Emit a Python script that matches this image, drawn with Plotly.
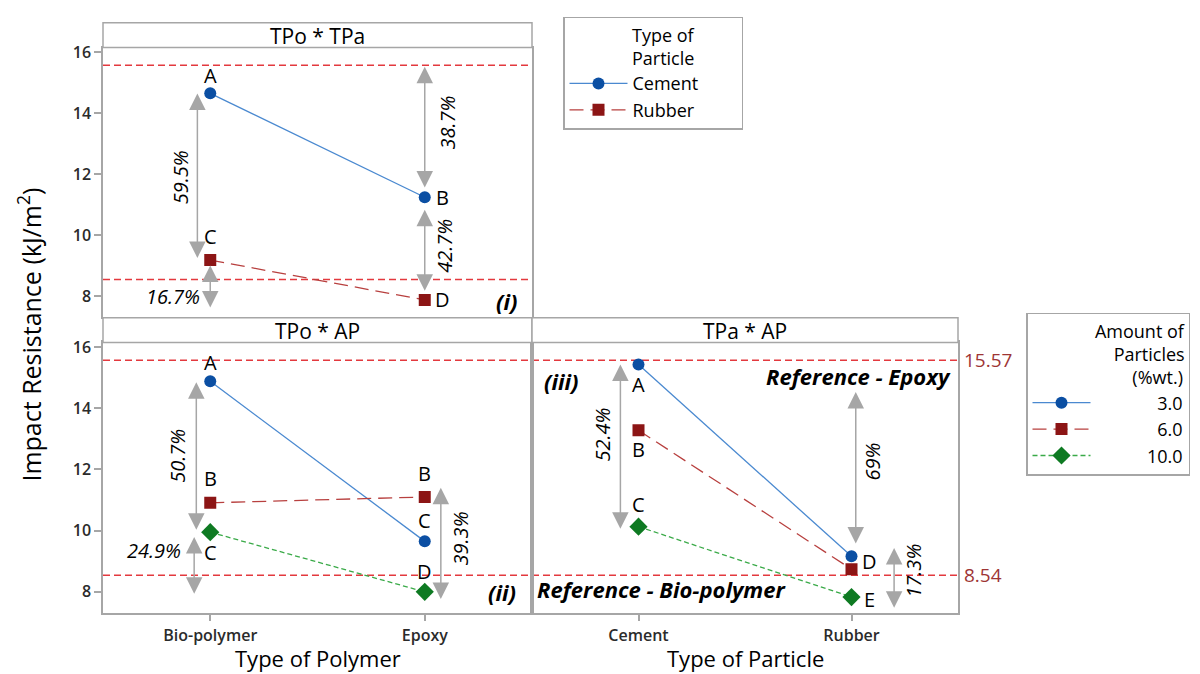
import plotly.graph_objects as go

# ---------------- data ----------------
polymers = ["Bio-polymer", "Epoxy"]
particles = ["Cement", "Rubber"]

# (i) TPo * TPa  (series = type of particle)
tpa_names = ["Cement", "Rubber"]
tpa_cement = [14.65, 11.24]
tpa_rubber = [9.18, 7.87]
tpa_cement_lbl = ["A", "B"]
tpa_rubber_lbl = ["C", "D"]

# (ii) TPo * AP  (series = amount of particles, %wt.)
ap_names = ["3.0", "6.0", "10.0"]
tpo_ap_3 = [14.88, 9.65]
tpo_ap_6 = [10.91, 11.10]
tpo_ap_10 = [9.95, 8.00]
tpo_ap_3_lbl = ["A", "C"]
tpo_ap_6_lbl = ["B", "B"]
tpo_ap_10_lbl = ["C", "D"]

# (iii) TPa * AP
tpa_ap_3 = [15.43, 9.16]
tpa_ap_6 = [13.28, 8.74]
tpa_ap_10 = [10.13, 7.83]
tpa_ap_3_lbl = ["A", "D"]
tpa_ap_6_lbl = ["B", ""]
tpa_ap_10_lbl = ["C", "E"]

ref_epoxy = 15.57
ref_bio = 8.54
yticks = [8, 10, 12, 14, 16]

# percentage-difference arrows: (x, top, bottom, label)
arrows_i = [(-0.06, 14.69, 9.25, "59.5%"), (0.0, 9.05, 7.62, "16.7%"),
            (1.0, 15.57, 11.56, "38.7%"), (1.0, 10.88, 8.17, "42.7%")]
arrows_ii = [(-0.065, 14.90, 10.03, "50.7%"), (-0.075, 9.84, 7.94, "24.9%"),
             (1.075, 11.45, 7.77, "39.3%")]
arrows_iii = [(-0.085, 15.48, 10.06, "52.4%"), (1.02, 14.58, 9.58, "69%"),
              (1.2, 9.48, 7.48, "17.3%")]

# ---------------- styles ----------------
FONT = "Open Sans"
W, H = 1200, 674
GRAY = "#a6a6a6"
BLUE_M, BLUE_L = "#0b4fa3", "#4a89d0"
RED_M, RED_L = "#8c1515", "#b8403f"
GRN_M, GRN_L = "#0e7a22", "#3aaa48"
REF_C = "#e3393e"
NB = "\u00a0"
FS = "\u2007"

def px_x(p):
    return p / W

def px_y(p):
    return 1 - p / H

XL = (px_x(103), px_x(532))
XR = (px_x(532), px_x(958))
Y_TOP = (px_y(313), px_y(41))
Y_BOT = (px_y(612), px_y(339))
YR = [7.32, 16.15]
XRANGE = [-0.5, 1.5]

fig = go.Figure()

def series(x, y, name, label, lc, mc, dash, sym, msize, xa, ya, legend, show):
    fig.add_trace(go.Scatter(
        x=x, y=y, name=label, mode="lines+markers",
        line=dict(color=lc, width=1.3, dash=dash),
        marker=dict(color=mc, symbol=sym, size=msize),
        xaxis=xa, yaxis=ya, legend=legend, showlegend=show,
        legendgroup=legend + name, hoverinfo="skip"))

# legend display labels (padding only affects layout of the legend text)
leg1_lbl = [n + NB * 8 for n in tpa_names]
leg2_lbl = [FS * (6 - (len(n) - 3)) + n for n in ap_names]

xi = [0, 1]
# (i)
series(xi, tpa_cement, tpa_names[0], leg1_lbl[0], BLUE_L, BLUE_M, "solid", "circle", 12, "x", "y", "legend", True)
series(xi, tpa_rubber, tpa_names[1], leg1_lbl[1], RED_L, RED_M, "14px,7px", "square", 12, "x", "y", "legend", True)
# (ii)
series(xi, tpo_ap_3, ap_names[0], leg2_lbl[0], BLUE_L, BLUE_M, "solid", "circle", 12, "x2", "y2", "legend2", True)
series(xi, tpo_ap_6, ap_names[1], leg2_lbl[1], RED_L, RED_M, "14px,7px", "square", 12, "x2", "y2", "legend2", True)
series(xi, tpo_ap_10, ap_names[2], leg2_lbl[2], GRN_L, GRN_M, "5px,3px", "diamond", 14, "x2", "y2", "legend2", True)
# (iii)
series(xi, tpa_ap_3, ap_names[0], leg2_lbl[0], BLUE_L, BLUE_M, "solid", "circle", 12, "x3", "y3", "legend2", False)
series(xi, tpa_ap_6, ap_names[1], leg2_lbl[1], RED_L, RED_M, "14px,7px", "square", 12, "x3", "y3", "legend2", False)
series(xi, tpa_ap_10, ap_names[2], leg2_lbl[2], GRN_L, GRN_M, "5px,3px", "diamond", 14, "x3", "y3", "legend2", False)

annotations = []
shapes = []

# reference lines
for xr, yr in [("x", "y"), ("x2", "y2"), ("x3", "y3")]:
    for v in (ref_epoxy, ref_bio):
        shapes.append(dict(type="line", xref=xr + " domain", yref=yr, x0=0, x1=1, y0=v, y1=v,
                           line=dict(color=REF_C, width=1.5, dash="7px,4px"), layer="below"))

# strips
for (x0, x1), (t, b), title in [(XL, (16, 41), "TPo * TPa"), (XL, (314, 339), "TPo * AP"),
                                 (XR, (314, 339), "TPa * AP")]:
    shapes.append(dict(type="rect", xref="paper", yref="paper", x0=x0, x1=x1, y0=px_y(b), y1=px_y(t),
                       line=dict(color=GRAY, width=1.5), fillcolor="white"))
    annotations.append(dict(xref="paper", yref="paper", x=(x0 + x1) / 2, y=px_y((t + b) / 2 + 1),
                            text=title, showarrow=False, font=dict(size=21, color="black", family=FONT),
                            xanchor="center", yanchor="middle"))

# point letters: (xaxis, yaxis, values, labels, (xshift, yshift) per point)
letter_specs = [
    ("x", "y", tpa_cement, tpa_cement_lbl, [(0, 18), (18, 0)]),
    ("x", "y", tpa_rubber, tpa_rubber_lbl, [(0, 24), (18, 0)]),
    ("x2", "y2", tpo_ap_3, tpo_ap_3_lbl, [(0, 19), (0, 21)]),
    ("x2", "y2", tpo_ap_6, tpo_ap_6_lbl, [(0, 24), (0, 23)]),
    ("x2", "y2", tpo_ap_10, tpo_ap_10_lbl, [(0, -20), (0, 20)]),
    ("x3", "y3", tpa_ap_3, tpa_ap_3_lbl, [(0, -20), (18, -5)]),
    ("x3", "y3", tpa_ap_6, tpa_ap_6_lbl, [(0, -19), (0, 0)]),
    ("x3", "y3", tpa_ap_10, tpa_ap_10_lbl, [(0, 22), (18, -2)]),
]
for xa, ya, vals, lbls, shifts in letter_specs:
    for i, (v, l) in enumerate(zip(vals, lbls)):
        if not l:
            continue
        annotations.append(dict(xref=xa, yref=ya, x=xi[i], y=v, text=l, showarrow=False,
                                xshift=shifts[i][0], yshift=shifts[i][1],
                                font=dict(size=20, color="black", family=FONT)))

# arrows + percentage labels
label_pos = {
    "59.5%": (-0.14, 11.9, "v"), "16.7%": (-0.04, 8.0, "h"),
    "38.7%": (1.105, 13.7, "v"), "42.7%": (1.095, 9.65, "v"),
    "50.7%": (-0.15, 12.45, "v"), "24.9%": (-0.125, 9.35, "h"),
    "39.3%": (1.165, 9.75, "v"),
    "52.4%": (-0.17, 13.15, "v"), "69%": (1.10, 12.25, "v"), "17.3%": (1.29, 8.7, "v"),
}
for (xa, ya), arr in [(("x", "y"), arrows_i), (("x2", "y2"), arrows_ii), (("x3", "y3"), arrows_iii)]:
    for x, top, bot, lab in arr:
        annotations.append(dict(xref=xa, yref=ya, x=x, y=bot, ax=x, ay=top, axref=xa, ayref=ya,
                                text="", showarrow=True, arrowhead=2, startarrowhead=2,
                                arrowside="end+start", arrowsize=2.2, startarrowsize=2.2,
                                arrowwidth=1.5, arrowcolor=GRAY, standoff=0, startstandoff=0))
        lx, ly, orient = label_pos[lab]
        a = dict(xref=xa, yref=ya, x=lx, y=ly, text="<i>" + lab + "</i>", showarrow=False,
                 font=dict(size=20, color="black", family=FONT))
        if orient == "v":
            a["textangle"] = -90
        else:
            a["xanchor"] = "right"
        annotations.append(a)

# panel ids and reference texts
bi = dict(size=22, color="black", family=FONT)
annotations += [
    dict(xref="x", yref="y", x=1.38, y=7.85, text="<b><i>(i)</i></b>", showarrow=False, font=bi),
    dict(xref="x2", yref="y2", x=1.36, y=8.0, text="<b><i>(ii)</i></b>", showarrow=False, font=bi),
    dict(xref="x3", yref="y3", x=-0.36, y=14.9, text="<b><i>(iii)</i></b>", showarrow=False, font=bi),
    dict(xref="x3", yref="y3", x=1.477, y=15.05, text="<b><i>Reference - Epoxy</i></b>",
         showarrow=False, xanchor="right", font=dict(size=22, color="black", family=FONT)),
    dict(xref="x3", yref="y3", x=-0.486, y=8.1, text="<b><i>Reference - Bio-polymer</i></b>",
         showarrow=False, xanchor="left", font=dict(size=22, color="black", family=FONT)),
    dict(xref="paper", yref="y3", x=px_x(962), y=ref_epoxy, text=f"{ref_epoxy:.2f}", showarrow=False,
         xanchor="left", yanchor="middle", font=dict(size=19, color="#9e3535", family=FONT)),
    dict(xref="paper", yref="y3", x=px_x(962), y=ref_bio, text=f"{ref_bio:.2f}", showarrow=False,
         xanchor="left", yanchor="middle", font=dict(size=19, color="#9e3535", family=FONT)),
    # axis titles
    dict(xref="paper", yref="paper", x=px_x(30), y=px_y(331), textangle=-90,
         xanchor="center", yanchor="middle",
         text="Impact Resistance (kJ/m<sup>2</sup>)", showarrow=False,
         font=dict(size=25, color="black", family=FONT)),
    dict(xref="paper", yref="paper", x=(XL[0] + XL[1]) / 2, y=px_y(658), text="Type of Polymer",
         xanchor="center", yanchor="middle",
         showarrow=False, font=dict(size=22, color="black", family=FONT)),
    dict(xref="paper", yref="paper", x=(XR[0] + XR[1]) / 2, y=px_y(658), text="Type of Particle",
         xanchor="center", yanchor="middle",
         showarrow=False, font=dict(size=22, color="black", family=FONT)),
]

axis_common = dict(showline=True, mirror=True, linecolor=GRAY, linewidth=1.5, showgrid=False,
                   zeroline=False, ticks="outside", tickcolor=GRAY, tickwidth=1.5, ticklen=7,
                   tickfont=dict(size=16, color="#2b2b2b", family=FONT, weight=600))
xcommon = dict(axis_common, range=XRANGE, tickvals=xi)

leg1_title = "<br>".join(NB * 14 + s for s in ["Type of", "Particle"])
leg2_title = "<br>".join(NB * k + s for k, s in [(14, "Amount of"), (18, "Particles"), (22, "(%wt.)")])

fig.update_layout(
    width=W, height=H, margin=dict(l=0, r=0, t=0, b=0),
    paper_bgcolor="white", plot_bgcolor="white",
    font=dict(family=FONT, color="black"),
    xaxis=dict(xcommon, domain=XL, anchor="y", ticktext=["", ""], ticks=""),
    yaxis=dict(axis_common, domain=Y_TOP, anchor="x", range=YR, tickvals=yticks),
    xaxis2=dict(xcommon, domain=XL, anchor="y2", ticktext=polymers),
    yaxis2=dict(axis_common, domain=Y_BOT, anchor="x2", range=YR, tickvals=yticks),
    xaxis3=dict(xcommon, domain=XR, anchor="y3", ticktext=particles),
    yaxis3=dict(axis_common, domain=Y_BOT, anchor="x3", range=YR, tickvals=yticks,
                showticklabels=False, ticks=""),
    legend=dict(x=px_x(563), y=px_y(10), xanchor="left", yanchor="top",
                bordercolor=GRAY, borderwidth=1.5, bgcolor="white",
                font=dict(size=18, color="black", family=FONT),
                title=dict(text=leg1_title, side="top",
                           font=dict(size=18, color="black", family=FONT)),
                itemwidth=58, tracegroupgap=0),
    legend2=dict(x=px_x(1026), y=px_y(309), xanchor="left", yanchor="top",
                 bordercolor=GRAY, borderwidth=1.5, bgcolor="white",
                 font=dict(size=18, color="black", family=FONT),
                 title=dict(text=leg2_title, side="top",
                            font=dict(size=18, color="black", family=FONT)),
                 itemwidth=58, tracegroupgap=0),
    shapes=shapes, annotations=annotations,
)

fig.write_html("out.html")
